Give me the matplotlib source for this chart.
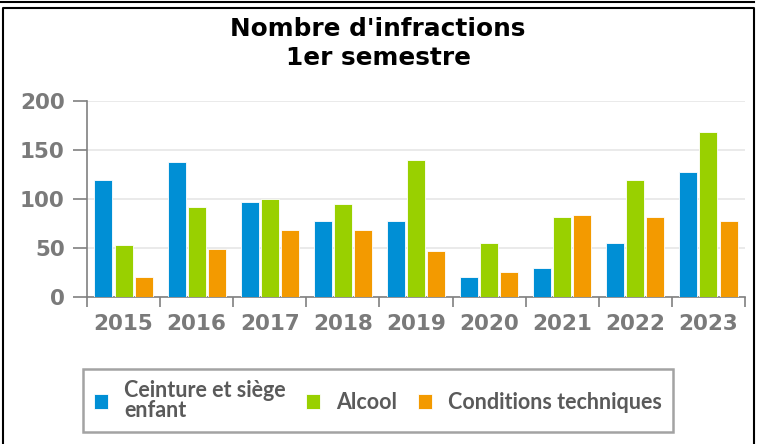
import matplotlib
matplotlib.use("Agg")
import matplotlib.pyplot as plt
import numpy as np
from matplotlib.lines import Line2D

years = ["2015", "2016", "2017", "2018", "2019", "2020", "2021", "2022", "2023"]
ceinture = [119, 138, 97, 78, 78, 20, 30, 55, 128]
alcool = [53, 92, 100, 95, 140, 55, 82, 119, 168]
conditions = [20, 49, 68, 68, 47, 26, 84, 82, 78]
series_names = ["Ceinture et siège\nenfant", "Alcool", "Conditions techniques"]
colors = ["#008fd5", "#99d000", "#f39a00"]

W, H = 758, 444
fig = plt.figure(figsize=(W / 100, H / 100), dpi=100)
fig.patch.set_facecolor("white")

# frame lines
fig.add_artist(Line2D([0, 754 / W], [1 - 2 / H, 1 - 2 / H], color="black", lw=1.5, transform=fig.transFigure))
fig.add_artist(Line2D([3 / W, 3 / W, 754 / W, 754 / W], [0, 1 - 8 / H, 1 - 8 / H, 0], color="black", lw=1.5, transform=fig.transFigure))

ax_l, ax_r, ax_t, ax_b = 87, 745, 101, 297
ax = fig.add_axes([ax_l / W, 1 - ax_b / H, (ax_r - ax_l) / W, (ax_b - ax_t) / H])

x = np.arange(len(years))
bw = 0.245
gap = 0.03
offs = [-(bw + gap), 0, bw + gap]
for vals, c, o, name in zip([ceinture, alcool, conditions], colors, offs, series_names):
    ax.bar(x + o, vals, width=bw, color=c, edgecolor="white", linewidth=0.6, label=name, zorder=3)

ax.set_xlim(-0.5, len(years) - 0.5)
ax.set_ylim(0, 200)
ax.set_yticks([0, 50, 100, 150, 200])
ax.yaxis.grid(True, color="#e6e6e6", lw=1.2, zorder=0)
ax.set_axisbelow(True)
for s in ["top", "right"]:
    ax.spines[s].set_visible(False)
for s in ["left", "bottom"]:
    ax.spines[s].set_color("#808080")
    ax.spines[s].set_linewidth(1.2)

ax.set_xticks(x)
ax.set_xticklabels(years)
ax.tick_params(axis="x", length=0, pad=12, labelsize=15.5, labelcolor="#7a7a7a")
ax.set_xticks(np.arange(-0.5, len(years)), minor=True)
ax.tick_params(axis="x", which="minor", length=7, color="#808080", width=1.2)
ax.tick_params(axis="y", length=10, color="#808080", width=1.2, pad=6, labelsize=15.5, labelcolor="#7a7a7a")
for lbl in ax.get_xticklabels() + ax.get_yticklabels():
    lbl.set_fontweight("bold")

fig.text(378 / W, 1 - 43.5 / H, "Nombre d'infractions\n1er semestre", ha="center", va="center",
         fontsize=17.8, fontweight="bold", color="black", linespacing=1.22)

leg = fig.legend(loc="center", bbox_to_anchor=(378 / W, 1 - 400.5 / H), ncol=3, frameon=True,
                 fancybox=False, edgecolor="#8c8c8c", handlelength=0.65, handleheight=0.65,
                 handletextpad=0.75, columnspacing=0.95, borderpad=0.5, borderaxespad=0,
                 prop={"family": "Lato", "weight": "bold", "size": 15.5})
leg.get_frame().set_linewidth(1.8)
for t in leg.get_texts():
    t.set_color("#5a5a5a")
    t.set_linespacing(0.95)

fig.savefig("out.png", dpi=100)
